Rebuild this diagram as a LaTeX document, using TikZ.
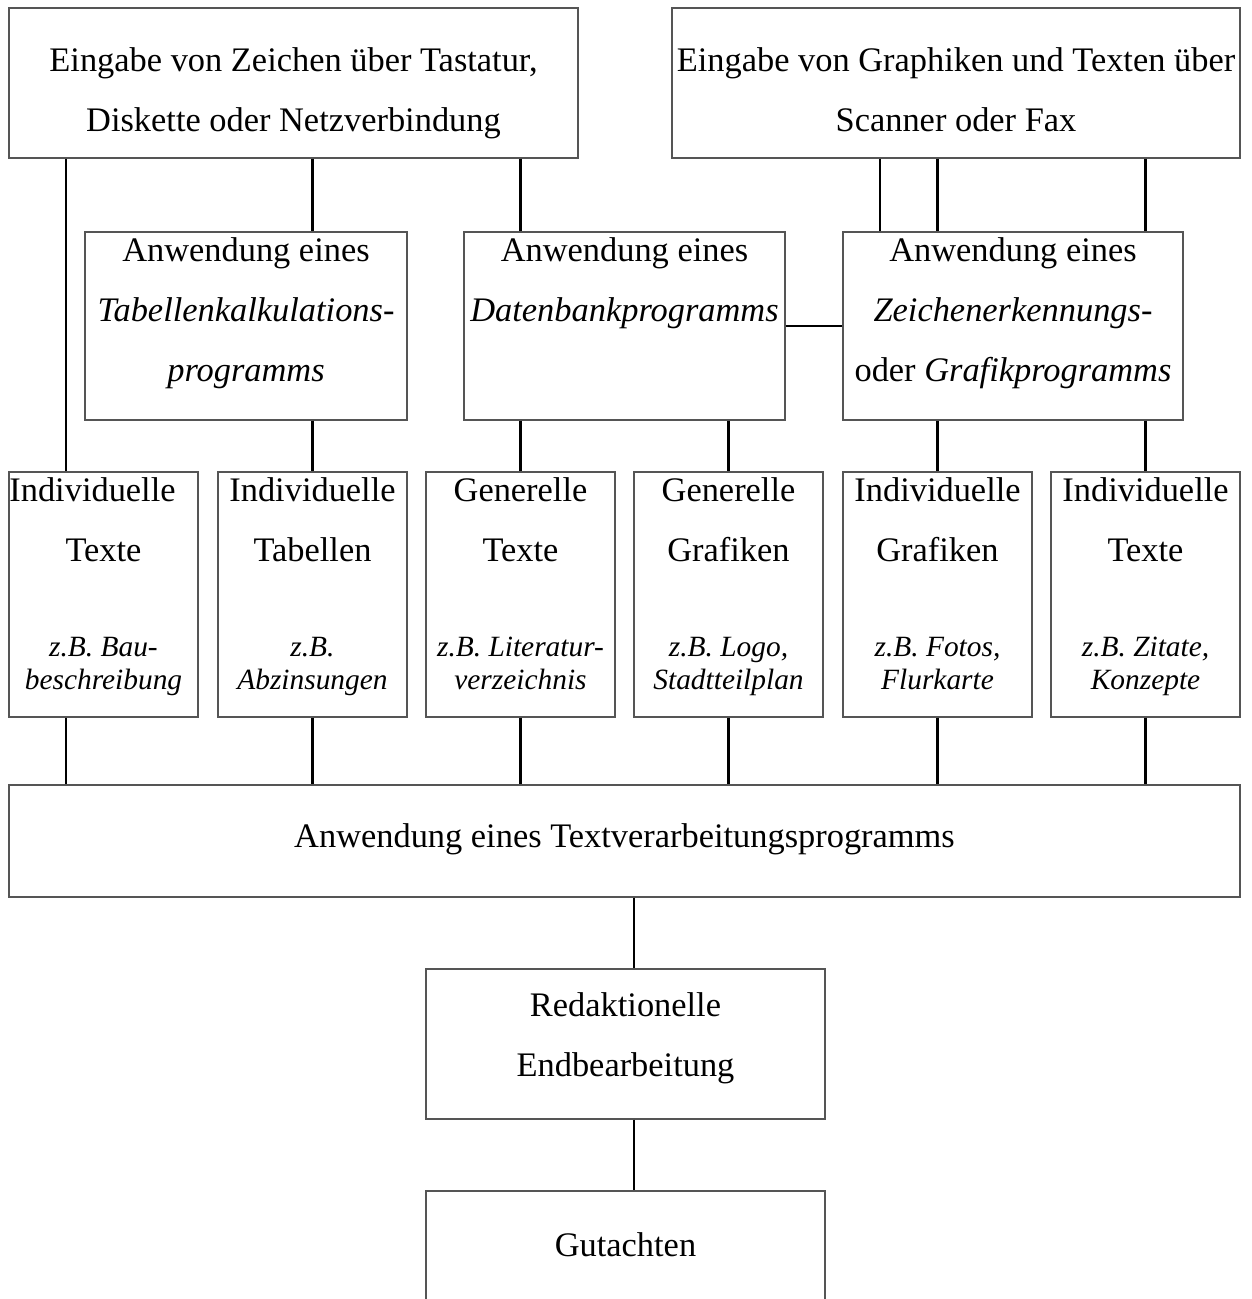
\documentclass[tikz,border=0pt]{standalone}
\usepackage{fontspec}
\setmainfont{Liberation Serif}
\usetikzlibrary{positioning, calc, fit}
\definecolor{frame}{HTML}{555555}

\begin{document}
\begin{tikzpicture}[
  x=0.5pt, y=-0.5pt,
  every node/.style={text=black},
  box/.style={draw=frame, line width=0.6pt, inner sep=0pt},
  big/.style={font=\fontsize{17.2}{30}\selectfont, align=center, inner sep=0pt, anchor=base},
  small/.style={font=\fontsize{14.7}{16.5}\selectfont\itshape, align=center, inner sep=0pt, anchor=base},
  link/.style={black, line width=1.4pt},
]

% Page
\fill[white] (0,0) rectangle (1251,1299);
\useasboundingbox (0,0) rectangle (1251,1299);

% Input boxes (text placed by its last baseline)
\node[box, fit={(9,8) (578,158)}] (kbd) {};
\node[big] (kbd-txt) at ($(kbd.north)+(0,124)$) {Eingabe von Zeichen über Tastatur,\\Diskette oder Netzverbindung};
\node[box, fit={(672,8) (1240,158)}] (scan) {};
\node[big] (scan-txt) at ($(scan.north)+(0,124)$) {Eingabe von Graphiken und Texten über\\Scanner oder Fax};

% Programs
\node[box, fit={(85,232) (407,420)}] (tab) {};
\node[big] (tab-txt) at ($(tab.north)+(0,150)$) {Anwendung eines\\\textit{Tabellenkalkulations-}\\\textit{programms}};
\node[box, fit={(464,232) (785,420)}] (db) {};
\node[big] (db-txt) at ($(db.north)+(0,90)$) {Anwendung eines\\\textit{Datenbankprogramms}};
\node[box, fit={(843,232) (1183,420)}] (ocr) {};
\node[big] (ocr-txt) at ($(ocr.north)+(0,150)$) {Anwendung eines\\\textit{Zeichenerkennungs-}\\oder \textit{Grafikprogramms}};

% Text and graphic modules
\node[box, fit={(9,472) (198,717)}] (ind1) {};
\node[big] (ind1-txt) at ($(ind1.north)+(0,90)$) {Individuelle\hspace*{11pt}\\Texte};
\node[small] (ind1-ex) at ($(ind1.north)+(0,218)$) {z.B. Bau-\\beschreibung};
\node[box, fit={(218,472) (407,717)}] (ind2) {};
\node[big] (ind2-txt) at ($(ind2.north)+(0,90)$) {Individuelle\\Tabellen};
\node[small] (ind2-ex) at ($(ind2.north)+(0,218)$) {z.B.\\Abzinsungen};
\node[box, fit={(426,472) (615,717)}] (gen1) {};
\node[big] (gen1-txt) at ($(gen1.north)+(0,90)$) {Generelle\\Texte};
\node[small] (gen1-ex) at ($(gen1.north)+(0,218)$) {z.B. Literatur-\\verzeichnis};
\node[box, fit={(634,472) (823,717)}] (gen2) {};
\node[big] (gen2-txt) at ($(gen2.north)+(0,90)$) {Generelle\\Grafiken};
\node[small] (gen2-ex) at ($(gen2.north)+(0,218)$) {z.B. Logo,\\Stadtteilplan};
\node[box, fit={(843,472) (1032,717)}] (ind3) {};
\node[big] (ind3-txt) at ($(ind3.north)+(0,90)$) {Individuelle\\Grafiken};
\node[small] (ind3-ex) at ($(ind3.north)+(0,218)$) {z.B. Fotos,\\Flurkarte};
\node[box, fit={(1051,472) (1240,717)}] (ind4) {};
\node[big] (ind4-txt) at ($(ind4.north)+(0,90)$) {Individuelle\\Texte};
\node[small] (ind4-ex) at ($(ind4.north)+(0,218)$) {z.B. Zitate,\\Konzepte};

% Word processing and output
\node[box, fit={(9,785) (1240,897)}] (word) {};
\node[big] (word-txt) at ($(word.north)+(0,63)$) {Anwendung eines Textverarbeitungsprogramms};
\node[box, fit={(426,969) (825,1119)}] (edit) {};
\node[big] (edit-txt) at ($(edit.north)+(0,108)$) {Redaktionelle\\Endbearbeitung};
\node[box, fit={(426,1191) (825,1320)}] (report) {};
\node[big] (report-txt) at ($(report.north)+(0,66)$) {Gutachten};

% Columns off the box centres
\coordinate (colA) at (66,0);
\coordinate (colB) at (880,0);
\coordinate (colM) at (634,0);

% Connectors
\draw[link] (kbd.south -| colA) -- (ind1.north -| colA);
\draw[link] (kbd.south -| ind2.north) -- (tab.north -| ind2.north);
\draw[link] (kbd.south -| gen1.north) -- (db.north -| gen1.north);
\draw[link] (scan.south -| colB) -- (ocr.north -| colB);
\draw[link] (scan.south -| ind3.north) -- (ocr.north -| ind3.north);
\draw[link] (scan.south -| ind4.north) -- (ocr.north -| ind4.north);
\draw[link] (db.east) -- (ocr.west);
\draw[link] (tab.south -| ind2.north) -- (ind2.north);
\draw[link] (db.south -| gen1.north) -- (gen1.north);
\draw[link] (db.south -| gen2.north) -- (gen2.north);
\draw[link] (ocr.south -| ind3.north) -- (ind3.north);
\draw[link] (ocr.south -| ind4.north) -- (ind4.north);
\draw[link] (ind1.south -| colA) -- (word.north -| colA);
\draw[link] (ind2.south) -- (word.north -| ind2.south);
\draw[link] (gen1.south) -- (word.north -| gen1.south);
\draw[link] (gen2.south) -- (word.north -| gen2.south);
\draw[link] (ind3.south) -- (word.north -| ind3.south);
\draw[link] (ind4.south) -- (word.north -| ind4.south);
\draw[link] (word.south -| colM) -- (edit.north -| colM);
\draw[link] (edit.south -| colM) -- (report.north -| colM);

\end{tikzpicture}
\end{document}
